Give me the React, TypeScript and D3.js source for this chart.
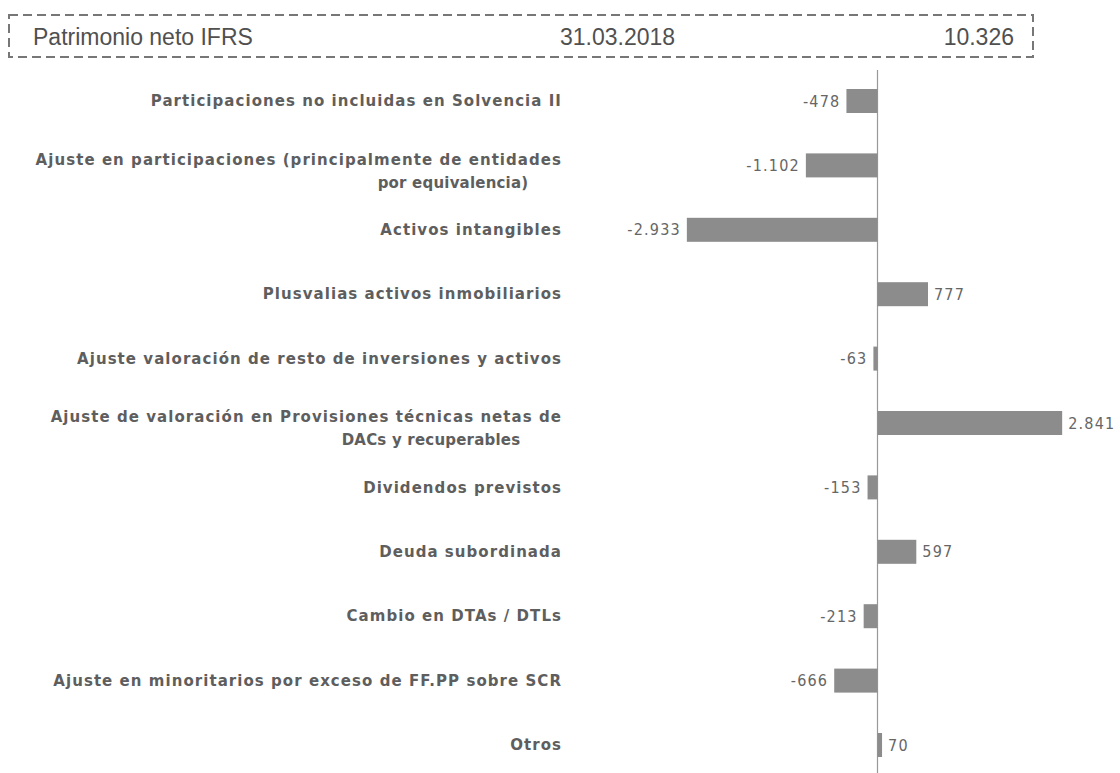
import * as d3 from 'd3'

const categories = [
  ['Participaciones no incluidas en Solvencia II'],
  ['Ajuste en participaciones (principalmente de entidades', 'por equivalencia)'],
  ['Activos intangibles'],
  ['Plusvalias activos inmobiliarios'],
  ['Ajuste valoración de resto de inversiones y activos'],
  ['Ajuste de valoración en Provisiones técnicas netas de', 'DACs y recuperables'],
  ['Dividendos previstos'],
  ['Deuda subordinada'],
  ['Cambio en DTAs / DTLs'],
  ['Ajuste en minoritarios por exceso de FF.PP sobre SCR'],
  ['Otros'],
]
const values = [-478, -1102, -2933, 777, -63, 2841, -153, 597, -213, -666, 70]

const headerLabel = 'Patrimonio neto IFRS'
const headerDate = '31.03.2018'
const headerValue = 10326

const W = 1120
const H = 773

const locale = d3.formatLocale({
  decimal: ',',
  thousands: '.',
  grouping: [3],
  currency: ['', ''],
  minus: '-',
})
const fmt = locale.format(',d')

const App = () => {
  // scales
  const keys = categories.map((c) => c.join(' '))
  const y = d3.scalePoint().domain(keys).range([101, 745])
  const x = d3.scaleLinear().domain([-3000, 3000]).range([682.5, 1072.5])
  const barH = 24
  const zero = x(0)
  const labelRight = 562
  // wrapped second lines are centred a bit right of the first line
  const secondLineX: Record<number, number> = { 1: 453, 5: 431 }

  return (
    <svg
      width={W}
      height={H}
      style={{ position: 'absolute', left: 0, top: 0, background: '#fff' }}
    >
      {/* header box */}
      <rect
        x={9}
        y={15}
        width={1024}
        height={42}
        fill="none"
        stroke="#777"
        strokeWidth={2}
        strokeDasharray="9,5"
      />
      <g fill="#505050" fontFamily="'Liberation Sans', Arial, sans-serif" fontSize={23}>
        <text x={33} y={45}>{headerLabel}</text>
        <text x={560} y={45}>{headerDate}</text>
        <text x={1014} y={45} textAnchor="end">{fmt(headerValue)}</text>
      </g>

      {/* zero line */}
      <line x1={zero} x2={zero} y1={70} y2={H} stroke="#999" strokeWidth={1.2} />

      {/* bars */}
      {values.map((v, i) => (
        <rect
          key={'b' + i}
          x={Math.min(x(v), zero)}
          y={(y(keys[i]) as number) - barH / 2}
          width={Math.max(Math.abs(x(v) - zero), 1.5)}
          height={barH}
          fill="#8c8c8c"
        />
      ))}

      {/* value labels */}
      <g fill="#666" fontFamily="'DejaVu Sans Condensed', 'DejaVu Sans', sans-serif" fontSize={16} letterSpacing={1.2}>
        {values.map((v, i) => (
          <text
            key={'v' + i}
            x={v < 0 ? x(v) - 6 : x(v) + 6}
            y={y(keys[i]) as number}
            dy="0.35em"
            textAnchor={v < 0 ? 'end' : 'start'}
          >
            {fmt(v)}
          </text>
        ))}
      </g>

      {/* category labels */}
      <g fill="#5e5e5e" fontFamily="'DejaVu Sans', sans-serif" fontSize={15} fontWeight={700} letterSpacing={1.05}>
        {categories.map((lines, i) => {
          const cy = y(keys[i]) as number
          if (lines.length === 1) {
            return (
              <text key={'c' + i} x={labelRight} y={cy} dy="0.35em" textAnchor="end">
                {lines[0]}
              </text>
            )
          }
          return (
            <g key={'c' + i}>
              <text x={labelRight} y={cy - 6} dy="0.35em" textAnchor="end">
                {lines[0]}
              </text>
              <text
                x={secondLineX[i] ?? 440}
                y={cy + 17}
                dy="0.35em"
                textAnchor="middle"
                letterSpacing={0.2}
              >
                {lines[1]}
              </text>
            </g>
          )
        })}
      </g>
    </svg>
  )
}

export default App
